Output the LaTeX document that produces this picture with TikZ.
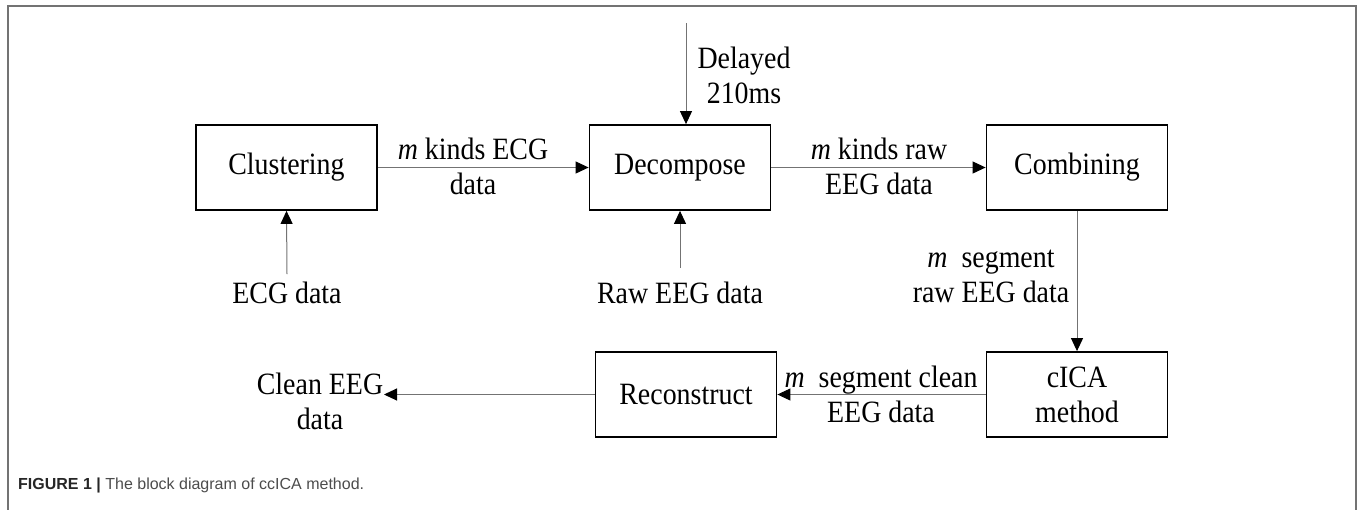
\documentclass[tikz,border=0pt]{standalone}
\usepackage{fontspec}
\setmainfont{Liberation Serif}[FakeStretch=0.9]
\newfontfamily\capfont{Liberation Sans}
\usetikzlibrary{arrows.meta}
\begin{document}
\begin{tikzpicture}[x=1pt,y=-1pt,
  blk/.style={draw=black,line width=1.8pt,minimum width=181pt,minimum height=85pt,inner sep=0pt,font=\fontsize{31}{35}\selectfont,align=center},
  lbl/.style={inner sep=0pt,font=\fontsize{31}{35}\selectfont,align=center},
  arr/.style={draw=black!55,line width=1pt,-{Triangle[length=13pt,width=12pt,color=black]}},
  frame/.style={draw=black!55,line width=2pt}
]
\path[use as bounding box] (0,0) rectangle (1357,509);
\clip (0,0) rectangle (1357,509);
\draw[frame] (8,6) rectangle (1355.5,540);

% blocks
\node[blk] (clus) at (286.5,167.5) {Clustering};
\node[blk] (dec) at (680,167.5) {Decompose};
\node[blk] (comb) at (1077,167.5) {Combining};
\node[blk] (cica) at (1077,394.5) {cICA\\method};
\node[blk] (recon) at (686,394.5) {Reconstruct};

% labels
\node[lbl] (l1) at (473,166) {\textit{m} kinds ECG\\data};
\node[lbl] (l2) at (879,166) {\textit{m} kinds raw\\EEG data};
\node[lbl] (dl) at (744,75) {Delayed\\210ms};
\node[lbl] (ecg) at (287,293) {ECG data};
\node[lbl] (raw) at (680,293) {Raw EEG data};
\node[lbl] (seg) at (991,276) {\textit{m}\ \ segment\\raw EEG data};
\node[lbl] (segc) at (881,394) {\textit{m}\ \ segment clean\\EEG data};
\node[lbl] (clean) at (320,401) {Clean EEG\\data};

% free ends
\coordinate (d0) at (686,23);
\coordinate (e0) at (287,274);
\coordinate (r0) at (680,268);
\coordinate (c0) at (384,394.5);

% connectors
\draw[arr] (clus.east) -- (dec.west);
\draw[arr] (dec.east) -- (comb.west);
\draw[arr] (d0) -- (d0 |- dec.north);
\draw[arr] (e0) -- (clus.south);
\draw[arr] (r0) -- (dec.south);
\draw[arr] (comb.south) -- (cica.north);
\draw[arr] (cica.west) -- (recon.east);
\draw[arr] (recon.west) -- (c0);

% caption
\node[anchor=base west,inner sep=0pt,font=\capfont\fontsize{16}{19}\selectfont,text=black!70] (cap) at (18,489) {\textcolor{black!85}{\textbf{FIGURE 1 |}} The block diagram of ccICA method.};
\end{tikzpicture}
\end{document}
